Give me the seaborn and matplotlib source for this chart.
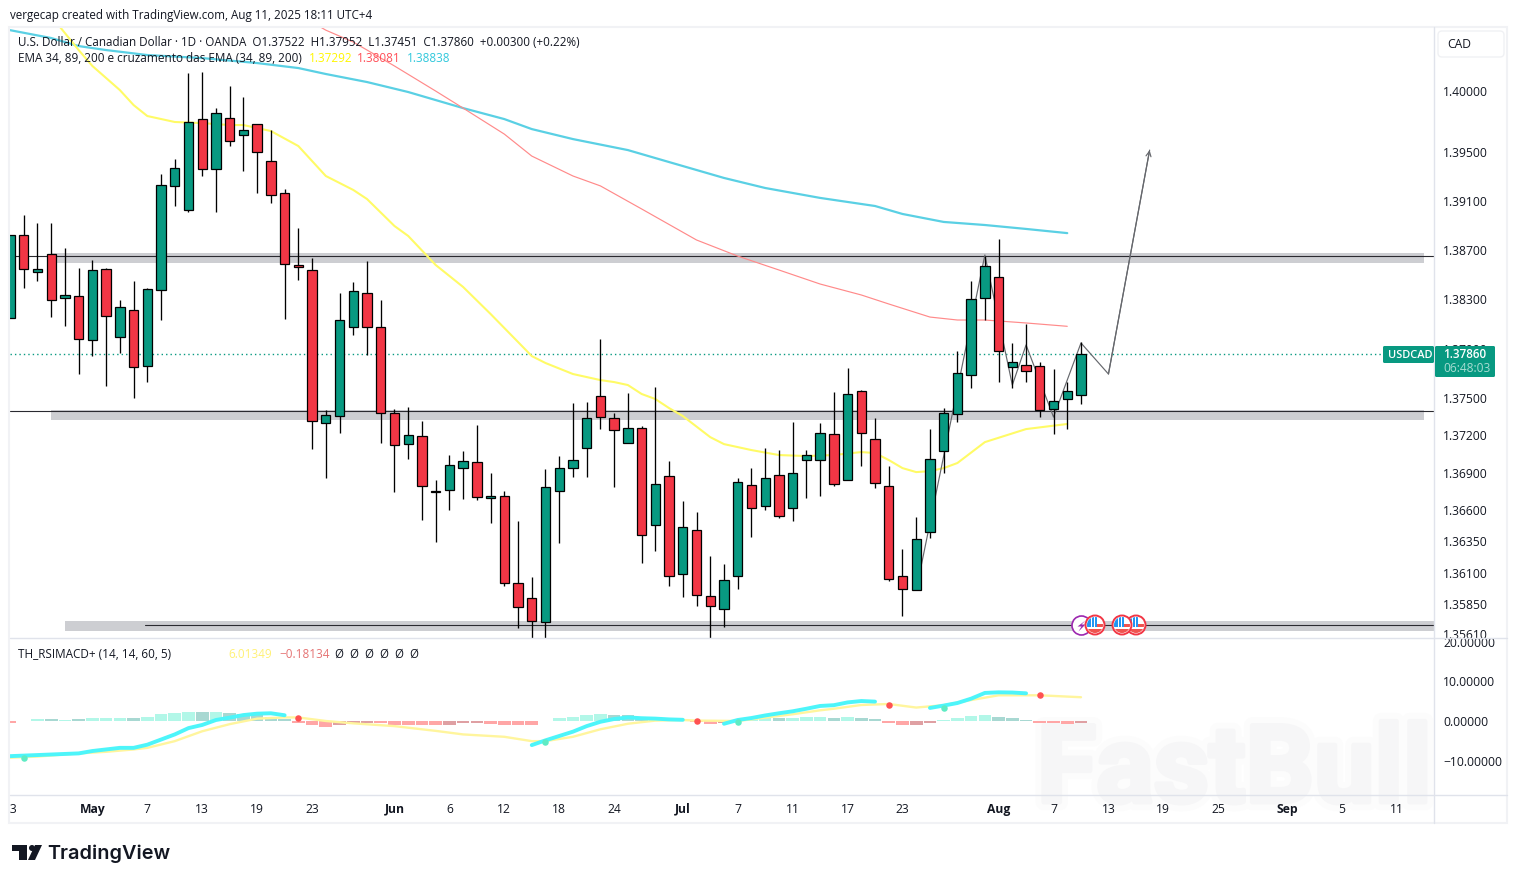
import matplotlib
matplotlib.use('Agg')
import matplotlib.pyplot as plt
import matplotlib.transforms as mtransforms
import matplotlib.patheffects as pe
from matplotlib.patches import Rectangle, Circle, Polygon, FancyBboxPatch
import numpy as np
import pandas as pd
import seaborn as sns

# USD/CAD daily candles, bar 0 is the one cut off at the left edge
opens = [1.38148, 1.38823, 1.38522, 1.38668, 1.38310, 1.38327, 1.37970, 1.38546, 1.37994, 1.38213,
         1.37759, 1.38376, 1.39223, 1.39027, 1.39770, 1.39361, 1.39778, 1.39639, 1.39729, 1.39426,
         1.39165, 1.38579, 1.38538, 1.37300, 1.37356, 1.38075, 1.38351, 1.38075, 1.37380, 1.37130,
         1.37194, 1.36752, 1.36760, 1.36937, 1.36986, 1.36696, 1.36712, 1.36016, 1.35897, 1.35706,
         1.36752, 1.36937, 1.37098, 1.37517, 1.37340, 1.37138, 1.37259, 1.36480, 1.36873, 1.36088,
         1.36440, 1.35912, 1.35809, 1.36072, 1.36800, 1.36632, 1.36881, 1.36616, 1.37002, 1.37002,
         1.37211, 1.36841, 1.37558, 1.37170, 1.36792, 1.36072, 1.35960, 1.36424, 1.37074, 1.37372,
         1.37687, 1.38310, 1.38481, 1.37751, 1.37767, 1.37759, 1.37412, 1.37493, 1.37522]
highs = [1.38823, 1.38986, 1.38921, 1.38921, 1.38716, 1.38554, 1.38619, 1.38554, 1.38294, 1.38449,
         1.38392, 1.39320, 1.39442, 1.40148, 1.40156, 1.39860, 1.40041, 1.39951, 1.39729, 1.39680,
         1.39198, 1.38880, 1.38635, 1.37404, 1.38351, 1.38441, 1.38611, 1.38294, 1.37412, 1.37428,
         1.37316, 1.36841, 1.37042, 1.37074, 1.37283, 1.36897, 1.36752, 1.36512, 1.36064, 1.36929,
         1.37034, 1.37461, 1.37469, 1.37978, 1.37380, 1.37542, 1.37275, 1.37590, 1.36994, 1.36672,
         1.36584, 1.36232, 1.36168, 1.36857, 1.36937, 1.37098, 1.37082, 1.37308, 1.37082, 1.37300,
         1.37550, 1.37743, 1.37566, 1.37340, 1.36953, 1.36288, 1.36544, 1.37251, 1.37420, 1.37881,
         1.38449, 1.38651, 1.38790, 1.37946, 1.38100, 1.37792, 1.37735, 1.37630, 1.37952]
lows = [1.38148, 1.38392, 1.38449, 1.38156, 1.38083, 1.37695, 1.37840, 1.37598, 1.37865, 1.37501,
        1.37630, 1.38132, 1.39059, 1.39011, 1.39304, 1.39011, 1.39549, 1.39345, 1.39165, 1.39084,
        1.38140, 1.38457, 1.37090, 1.36857, 1.37219, 1.38010, 1.37848, 1.37138, 1.36744, 1.37010,
        1.36520, 1.36344, 1.36600, 1.36688, 1.36680, 1.36496, 1.35992, 1.35658, 1.35550, 1.35550,
        1.36336, 1.36865, 1.36865, 1.37251, 1.36784, 1.37138, 1.36176, 1.36272, 1.35992, 1.35905,
        1.35833, 1.35550, 1.35666, 1.35968, 1.36384, 1.36600, 1.36536, 1.36512, 1.36696, 1.36712,
        1.36792, 1.36841, 1.36953, 1.36776, 1.36032, 1.35754, 1.35960, 1.36376, 1.36897, 1.37308,
        1.37582, 1.38132, 1.37630, 1.37582, 1.37630, 1.37348, 1.37211, 1.37251, 1.37451]
closes = [1.38823, 1.38546, 1.38546, 1.38294, 1.38335, 1.37978, 1.38538, 1.38164, 1.38237, 1.37751,
          1.38384, 1.39230, 1.39369, 1.39746, 1.39361, 1.39819, 1.39590, 1.39680, 1.39500, 1.39149,
          1.38587, 1.38562, 1.37316, 1.37364, 1.38132, 1.38368, 1.38075, 1.37380, 1.37122, 1.37202,
          1.36792, 1.36744, 1.36961, 1.36994, 1.36704, 1.36712, 1.36016, 1.35825, 1.35714, 1.36784,
          1.36937, 1.37002, 1.37340, 1.37348, 1.37243, 1.37259, 1.36400, 1.36809, 1.36072, 1.36464,
          1.35920, 1.35833, 1.36040, 1.36825, 1.36616, 1.36857, 1.36552, 1.36897, 1.37042, 1.37219,
          1.36809, 1.37534, 1.37219, 1.36817, 1.36048, 1.35968, 1.36368, 1.37010, 1.37380, 1.37703,
          1.38302, 1.38570, 1.37881, 1.37792, 1.37719, 1.37404, 1.37477, 1.37558, 1.37860]

# EMAs
ema34_bars = [3, 4, 5, 6, 8, 9, 10, 12, 14, 16, 17, 19, 21, 23, 25, 26, 28, 29, 31, 33, 35, 37, 38, 39, 41, 43, 44,
              45, 46, 47, 48, 49, 51, 52, 54, 56, 58, 60, 62, 63, 64, 65, 66, 67, 68, 69, 71, 74, 77]
ema34 = [1.40617, 1.40477, 1.40337, 1.40206, 1.40008, 1.39885, 1.39795, 1.39746, 1.39737, 1.39721, 1.39721,
         1.39672, 1.39549, 1.39304, 1.39190, 1.39116, 1.38896, 1.38815, 1.38579, 1.38400, 1.38181, 1.37954,
         1.37840, 1.37784, 1.37695, 1.37646, 1.37630, 1.37606, 1.37534, 1.37493, 1.37420, 1.37356, 1.37186,
         1.37130, 1.37082, 1.37042, 1.37034, 1.37042, 1.37066, 1.37058, 1.37002, 1.36937, 1.36905, 1.36913,
         1.36937, 1.36978, 1.37146, 1.37251, 1.37292]
ema89_bars = [22, 23, 25, 28, 31, 33, 36, 38, 41, 43, 46, 50, 53, 56, 59, 62, 64, 67, 69, 71, 74, 77]
ema89 = [1.40567, 1.40501, 1.40403, 1.40206, 1.40000, 1.39860, 1.39647, 1.39467, 1.39304, 1.39223, 1.39035,
         1.38782, 1.38651, 1.38538, 1.38424, 1.38335, 1.38262, 1.38156, 1.38132, 1.38132, 1.38108, 1.38081]
ema200_bars = [0, 3, 5, 7, 10, 14, 18, 21, 23, 26, 29, 33, 36, 38, 41, 45, 48, 52, 55, 59, 63, 65, 68, 71, 74, 77]
ema200 = [1.40501, 1.40436, 1.40370, 1.40337, 1.40296, 1.40271, 1.40230, 1.40189, 1.40140, 1.40074, 1.39992,
          1.39860, 1.39770, 1.39688, 1.39606, 1.39516, 1.39418, 1.39288, 1.39206, 1.39125, 1.39059, 1.38994,
          1.38929, 1.38904, 1.38872, 1.38838]

# drawn levels and the projected path
zone_top = [1.38676, 1.38595]
zone_mid = [1.37404, 1.37324]
zone_low = [1.35714, 1.35634]
level_top = 1.38651
level_mid = 1.37396
level_low = 1.35682
path_bars = [66, 71, 73, 74, 76, 78, 80, 83]
path_prices = [1.35960, 1.38660, 1.37606, 1.37930, 1.37348, 1.37946, 1.37695, 1.39516]
last_price = 1.37860

price_ticks = [1.40, 1.395, 1.391, 1.387, 1.383, 1.379, 1.375, 1.372, 1.369, 1.366, 1.3635, 1.361, 1.3585, 1.3561]
price_labels = ['1.40000', '1.39500', '1.39100', '1.38700', '1.38300', '1.37900', '1.37500', '1.37200',
                '1.36900', '1.36600', '1.36350', '1.36100', '1.35850', '1.35610']

# TH_RSIMACD+ pane
hist = [-0.5, 0.1, 0.4, 0.4, 0.35, 0.4, 0.7, 0.7, 0.7, 0.7, 0.9, 1.7, 1.9, 2.2, 2.2, 2.2, 1.9, 1.8, 1.4, 1.0,
        0.4, -0.4, -1.1, -1.4, -1.0, -0.6, -0.4, -0.6, -0.9, -1.0, -1.1, -1.1, -0.9, -0.6, -0.6, -0.8, -0.9,
        -1.1, -1.1, 0.1, 0.8, 1.0, 1.5, 1.8, 1.5, 1.5, 0.8, 0.8, 0.4, 0.2, -0.2, -0.7, -0.5, 0.15, 0.4, 0.7,
        0.85, 0.85, 1.0, 1.0, 0.75, 1.0, 0.75, 0.5, -0.5, -1.0, -1.0, -0.5, 0.3, 0.8, 1.3, 1.5, 1.0, 0.75, 0.3,
        -0.4, -0.5, -0.7, -0.5]
hist_fading = [0, 0, 0, 1, 0, 1, 0, 0, 0, 1, 0, 0, 0, 0, 1, 0, 1, 1, 1, 1,
               1, 0, 0, 0, 1, 1, 1, 0, 0, 0, 0, 0, 1, 1, 1, 0, 0,
               0, 0, 0, 0, 0, 0, 0, 1, 1, 1, 1, 1, 1, 0, 0, 1, 0, 0, 0,
               1, 0, 0, 0, 1, 0, 1, 1, 0, 0, 1, 1, 0, 0, 0, 0, 1, 1, 1,
               0, 0, 0, 1]
signal_bars = [0, 2, 5, 7, 9, 10, 12, 14, 16, 18, 20, 21, 23, 25, 28, 31, 33, 36, 38, 39, 41, 43, 45, 47, 49, 50,
               53, 55, 57, 59, 60, 62, 64, 66, 68, 70, 72, 75, 78]
signal = [-9.3, -9.0, -8.2, -7.8, -7.2, -6.8, -5.1, -2.6, -0.8, 0.6, 0.9, 0.9, 0.0, -0.6, -1.3, -2.5, -3.4, -4.0,
          -5.1, -5.1, -4.0, -2.1, -0.7, 0.1, 0.25, 0.1, 0.0, 0.85, 1.7, 2.7, 3.1, 4.05, 4.3, 3.4, 4.0, 5.3, 6.5,
          6.5, 6.01]
up_bars_a = [0, 5, 6, 8, 9, 10, 12, 13, 14, 15, 16, 17, 18, 19, 20]
up_a = [-8.9, -8.2, -7.6, -6.8, -6.8, -6.0, -3.4, -1.8, -1.0, 0.25, 0.85, 1.5, 1.85, 1.95, 1.45]
up_bars_b = [38, 39, 40, 41, 42, 43, 44, 45, 46, 47, 48, 49]
up_b = [-6.1, -4.9, -3.8, -2.7, -1.3, -0.2, 0.5, 0.9, 0.7, 0.6, 0.4, 0.3]
up_bars_c = [52, 53, 54, 55, 56, 57, 58, 59, 60, 61, 62, 63]
up_c = [-0.7, 0.25, 0.75, 1.4, 1.95, 2.45, 3.1, 3.8, 4.0, 4.7, 5.05, 4.9]
up_bars_d = [67, 68, 69, 70, 71, 72, 73, 74]
up_d = [3.3, 3.9, 4.55, 5.65, 7.1, 7.25, 7.2, 7.0]
cross_up_bars = [1, 39, 53, 68]
cross_up = [-9.3, -5.2, -0.15, 3.4]
cross_down_bars = [21, 50, 64, 75]
cross_down = [0.85, 0.1, 4.1, 6.5]
sub_ticks = [20, 10, 0, -10]
sub_labels = ['20.00000', '10.00000', '0.00000', '\u221210.00000']

date_bars = [0, 6, 10, 14, 18, 22, 28, 32, 36, 40, 44, 49, 53, 57, 61, 65, 72, 76, 80, 84, 88, 93, 97, 101]
date_labels = ['23', 'May', '7', '13', '19', '23', 'Jun', '6', '12', '18', '24', 'Jul', '7', '11', '17', '23',
               'Aug', '7', '13', '19', '25', 'Sep', '5', '11']
month_labels = ['May', 'Jun', 'Jul', 'Aug', 'Sep']

W, H = 1518, 883
GREEN = '#089981'
RED = '#F23645'
GRID = '#E0E3EB'
INK = '#131722'

sns.set_theme(style='white')
plt.rcParams['font.family'] = ['Open Sans', 'DejaVu Sans']

fig = plt.figure(figsize=(W / 100, H / 100), dpi=100, facecolor='white')
px = mtransforms.Affine2D().scale(1, -1).translate(0, H)
ax = fig.add_axes([10 / W, (H - 638) / H, 1424 / W, 611 / H])
ax2 = fig.add_axes([10 / W, (H - 795) / H, 1424 / W, 157 / H], sharex=ax, facecolor='none')


def put(x, y, s, size=8.7, color=INK, **kw):
    kw.setdefault('va', 'center')
    return fig.text(x / W, 1 - y / H, s, fontsize=size, color=color, **kw)


# ---- price pane
df = pd.DataFrame({'open': opens, 'high': highs, 'low': lows, 'close': closes})
df['bar'] = np.arange(len(df))
df['up'] = df['close'] >= df['open']

ax.set_yscale('log')
ax.fill_between([3, 102.95], zone_top[1], zone_top[0], color='#CDCED2', lw=0, zorder=1)
ax.fill_between([3, 102.95], zone_mid[1], zone_mid[0], color='#CDCED2', lw=0, zorder=1)
ax.fill_between([4.03, 104], zone_low[1], zone_low[0], color='#CDCED2', lw=0, zorder=1)
ax.plot([0, 104], [level_top, level_top], color='#2a2a30', lw=0.8, zorder=1.2)
ax.plot([0, 104], [level_mid, level_mid], color='#2a2a30', lw=0.8, zorder=1.2)
ax.plot([9.86, 104], [level_low, level_low], color='#2a2a30', lw=0.8, zorder=1.2)
ax.plot([0, 104], [last_price, last_price], color=GREEN, lw=1.0, ls=(0, (1, 2.2)), zorder=1.3)

sns.lineplot(x=ema200_bars, y=ema200, ax=ax, color='#5AD0E4', linewidth=1.6, estimator=None, sort=False, zorder=2)
sns.lineplot(x=ema89_bars, y=ema89, ax=ax, color='#FF8A8A', linewidth=0.85, estimator=None, sort=False, zorder=2)
sns.lineplot(x=ema34_bars, y=ema34, ax=ax, color='#FFFB66', linewidth=1.5, estimator=None, sort=False, zorder=2)

sns.lineplot(x=path_bars, y=path_prices, ax=ax, color='#66686d', linewidth=0.85, estimator=None, sort=False, zorder=2.5)
ax.annotate('', xy=(path_bars[-1], path_prices[-1]), xytext=(path_bars[-2], path_prices[-2]),
            arrowprops=dict(arrowstyle='->', color='#66686d', lw=0.85, mutation_scale=9, shrinkA=0, shrinkB=0), zorder=2.5)

ax.vlines(df['bar'], df['low'], df['high'], color='black', lw=0.95, zorder=3)
ax.bar(df['bar'], (df['close'] - df['open']).abs(), bottom=df[['open', 'close']].min(axis=1), width=0.68,
       color=[GREEN if u else RED for u in df['up']], edgecolor='black', linewidth=0.9, zorder=4)

ax.set_xlim(0.07, 103.71)
ax.set_ylim(1.35579, 1.40527)
ax.yaxis.tick_right()
ax.set_yticks(price_ticks, labels=price_labels)
ax.minorticks_off()
ax.tick_params(axis='y', length=0, pad=6.6, labelsize=8.7, labelcolor=INK)
ax.tick_params(axis='x', length=0, labelbottom=False)
ax.set_xlabel('')
ax.set_ylabel('')
sns.despine(ax=ax, left=True, right=True, top=True, bottom=True)

# ---- indicator pane
hist_colors = []
for v, fade in zip(hist, hist_fading):
    if v >= 0:
        hist_colors.append('#A8D8D2' if fade else '#B2F7E8')
    else:
        hist_colors.append('#DFA0A3' if fade else '#FFA6A6')
ax2.bar(np.arange(len(hist)), hist, width=0.92, color=hist_colors, lw=0, zorder=1)
sns.lineplot(x=signal_bars, y=signal, ax=ax2, color='#FFF59D', linewidth=1.7, estimator=None, sort=False, zorder=2)
for bars, vals in [(up_bars_a, up_a), (up_bars_b, up_b), (up_bars_c, up_c), (up_bars_d, up_d)]:
    sns.lineplot(x=bars, y=vals, ax=ax2, color='#4DF5FA', linewidth=2.8, estimator=None, sort=False, zorder=3)
sns.scatterplot(x=cross_up_bars, y=cross_up, ax=ax2, color='#5FEBC4', s=22, linewidth=0, zorder=4)
sns.scatterplot(x=cross_down_bars, y=cross_down, ax=ax2, color='#FF5252', s=22, linewidth=0, zorder=4)

ax2.set_ylim(-18.73, 21.0)
ax2.yaxis.tick_right()
ax2.set_yticks(sub_ticks, labels=sub_labels)
ax2.tick_params(axis='y', length=0, pad=6.6, labelsize=8.7, labelcolor=INK)
ax2.set_xticks(date_bars, labels=date_labels)
ax2.tick_params(axis='x', length=0, pad=5.5, labelsize=8.7, labelcolor=INK)
ax2.set_xlabel('')
ax2.set_ylabel('')
clip_row = mtransforms.Bbox.from_extents(10, 0, 1434, H)
for lab in ax2.get_xticklabels():
    lab.set_clip_box(clip_row)
    lab.set_clip_on(True)
    if lab.get_text() in month_labels:
        lab.set_fontweight('bold')
sns.despine(ax=ax2, left=True, right=True, top=True, bottom=True)

# ---- frame and separators
fig.add_artist(Rectangle((9.2, 27), 1497.8, 796, transform=px, fill=False, ec='#F1F2F5', lw=1.5, zorder=1))
for x0, y0, x1, y1 in [(10, 638, 1507, 638), (10, 795, 1507, 795), (1434, 27, 1434, 823)]:
    fig.add_artist(plt.Line2D([x0, x1], [y0, y1], transform=px, color=GRID, lw=1.0, zorder=1))

# ---- faint FastBull mark
fig.text(1037 / W, 1 - 802 / H, 'FastBull', fontsize=77.5, fontweight='bold', family=['Roboto', 'DejaVu Sans'],
         color='#F6F6F7', va='baseline', zorder=-1,
         path_effects=[pe.withStroke(linewidth=12, foreground='#FCFCFC'), pe.withStroke(linewidth=3.5, foreground='#F6F6F7')])

# ---- texts
put(10, 15, 'vergecap created with TradingView.com, Aug 11, 2025 18:11 UTC+4', size=8.42)
put(18, 42, 'U.S. Dollar / Canadian Dollar \u00b7 1D \u00b7 OANDA  O1.37522  H1.37952  L1.37451  C1.37860  +0.00300 (+0.22%)', size=8.38)
put(18, 59, 'EMA 34, 89, 200 e cruzamento das EMA (34, 89, 200)', size=8.45)
put(309, 59, '1.37292', size=8.5, color='#FFF700')
put(357, 59, '1.38081', size=8.5, color='#FF4F58')
put(407, 59, '1.38838', size=8.5, color='#30C8DC')
put(18, 654, 'TH_RSIMACD+ (14, 14, 60, 5)', size=8.5)
put(228, 654, '6.01349', size=8.5, color='#FFF176')
put(279, 654, '\u22120.18134', size=8.5, color='#E57373')
put(335, 654, '\u00d8  \u00d8  \u00d8  \u00d8  \u00d8  \u00d8', size=8.3)

# ---- currency box and last price tags
fig.add_artist(FancyBboxPatch((1441, 34), 60, 20, boxstyle='round,pad=3,rounding_size=4', transform=px,
                              fc='white', ec='#F0F1F4', lw=1.0, zorder=2))
put(1447, 44, 'CAD', size=8.7, zorder=5)
fig.add_artist(FancyBboxPatch((1384, 347), 49, 15, boxstyle='round,pad=1,rounding_size=1.5', transform=px,
                              fc=GREEN, ec='none', zorder=4))
fig.add_artist(FancyBboxPatch((1435, 346), 60, 31, boxstyle='round,pad=0,rounding_size=1.5', transform=px,
                              fc=GREEN, ec='none', zorder=4))
put(1388, 355, 'USDCAD', size=7.9, color='white', fontweight='semibold', zorder=5)
put(1443, 354, '1.37860', size=8.4, color='white', fontweight='semibold', zorder=5)
put(1443, 368, '06:48:03', size=8.6, color='#A9DDD3', zorder=5)


# ---- event badges on the low level
def lightning_badge(cx, cy):
    fig.add_artist(Circle((cx, cy), 9.5, transform=px, fc='white', ec='#9C27B0', lw=1.2, zorder=4))
    fig.add_artist(Polygon([(cx + 4, cy - 5), (cx - 4, cy + 1), (cx, cy + 1), (cx - 3, cy + 6), (cx + 4, cy - 1), (cx, cy - 1)],
                           transform=px, fc='#9C27B0', ec='none', zorder=4))


def flag_badge(cx, cy):
    fig.add_artist(Circle((cx, cy), 9.5, transform=px, fc='white', ec='#F23645', lw=1.4, zorder=4))
    inner = Circle((cx, cy), 8, transform=px)
    for x0, y0, w, h, c in [(-8, -8, 9.5, 9.5, '#2196F3'), (1.5, -1.5, 7, 3.2, '#EF5350'), (-8, 4.3, 16, 3.7, '#EF5350'),
                            (-3.6, -8, 0.7, 9.5, 'white'), (-0.8, -8, 0.7, 9.5, 'white'), (-8, -3.5, 9.5, 0.7, 'white')]:
        r = Rectangle((cx + x0, cy + y0), w, h, transform=px, fc=c, ec='none', zorder=4)
        fig.add_artist(r)
        r.set_clip_path(inner)


lightning_badge(1081.5, 625.5)
flag_badge(1095, 625)
flag_badge(1136, 625)
flag_badge(1122, 625)

# ---- TradingView mark
fig.add_artist(Polygon([(12, 845), (27, 845), (27, 860), (19, 860), (19, 851), (12, 851)], transform=px, fc=INK, ec='none', zorder=3))
fig.add_artist(Circle((32, 848), 3, transform=px, fc=INK, ec='none', zorder=3))
fig.add_artist(Polygon([(35, 845), (42, 845), (35, 860), (28, 860)], transform=px, fc=INK, ec='none', zorder=3))
put(47.5, 854, 'TradingView', size=14.3, fontweight='semibold', family=['Inter', 'DejaVu Sans'])

fig.savefig('out.png', dpi=100)
